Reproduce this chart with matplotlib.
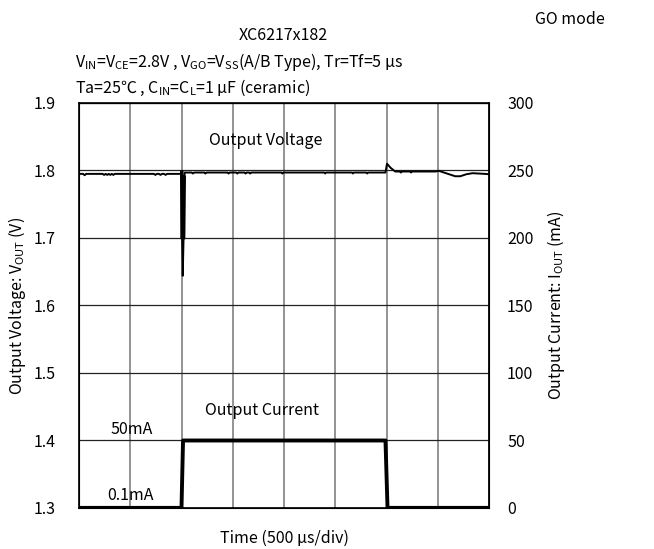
import numpy as np
import matplotlib.pyplot as plt

plt.rcParams['font.family'] = ['Noto Sans CJK JP', 'DejaVu Sans']
plt.rcParams['mathtext.fontset'] = 'custom'
plt.rcParams['mathtext.rm'] = 'Noto Sans CJK JP'
plt.rcParams['mathtext.it'] = 'Noto Sans CJK JP'
FS = 11.5

# time axis in microseconds (500 us/div, 8 divisions)
t_v = [0, 40, 55, 70, 230, 245, 260, 275, 290, 305, 320, 335, 350,
       730, 745, 760, 780, 795, 810, 830, 845, 860, 1000,
       1003, 1006, 1012, 1020, 1026, 1032, 1060, 1100, 1110, 1125, 1225, 1232, 1245,
       1450, 1458, 1470, 1535, 1545, 1555, 1615, 1625, 1635, 1660, 1670, 1680,
       1975, 1983, 1995, 2395, 2402, 2410, 2665, 2672, 2680, 2805, 2812, 2820,
       2990, 3005, 3040, 3085, 3130, 3140, 3150, 3230, 3240, 3250,
       3480, 3510, 3560, 3620, 3670, 3720, 3780, 3840, 3900, 3960, 4000]
v_out = [1.795, 1.795, 1.793, 1.795, 1.795, 1.7935, 1.795, 1.7935, 1.795, 1.7935, 1.795, 1.7935, 1.795,
         1.795, 1.7935, 1.795, 1.795, 1.7935, 1.795, 1.795, 1.7935, 1.795, 1.795,
         1.7975, 1.700, 1.644, 1.700, 1.790, 1.797, 1.797, 1.797, 1.7955, 1.797, 1.797, 1.7955, 1.797,
         1.797, 1.7955, 1.797, 1.797, 1.7955, 1.797, 1.797, 1.7955, 1.797, 1.797, 1.7955, 1.797,
         1.797, 1.7955, 1.797, 1.797, 1.7955, 1.797, 1.797, 1.7955, 1.797, 1.797, 1.7955, 1.797,
         1.797, 1.810, 1.804, 1.7985, 1.7985, 1.797, 1.7985, 1.7985, 1.797, 1.7985,
         1.7985, 1.7995, 1.797, 1.794, 1.7915, 1.7915, 1.7945, 1.796, 1.7955, 1.795, 1.7945]

t_i = [0, 1000, 1015, 2990, 3010, 4000]
i_out = [0.1, 0.1, 50, 50, 0.1, 0.1]

fig = plt.figure(figsize=(6.54, 5.49), dpi=100)
ax = fig.add_axes([79 / 654, 41 / 549, 410 / 654, 405 / 549])
ax2 = ax.twinx()

ax.set_xlim(0, 4000)
ax.set_ylim(1.3, 1.9)
ax2.set_ylim(0, 300)
ax.set_xticks(np.arange(0, 4001, 500))
ax.set_xticklabels([])
ax.set_yticks(np.arange(1.3, 1.91, 0.1))
ax.set_yticklabels([f'{v:.1f}' for v in np.arange(1.3, 1.91, 0.1)])
ax2.set_yticks(np.arange(0, 301, 50))

ax.tick_params(axis='both', length=0, labelsize=FS)
ax.tick_params(axis='y', pad=17)
ax2.tick_params(axis='y', length=0, labelsize=FS, pad=13)

ax.grid(axis='x', color='#808080', lw=1.2)
ax.grid(axis='y', color='#222222', lw=0.9)
ax.set_axisbelow(True)
for sp in ax.spines.values():
    sp.set_linewidth(1.2)

# voltage trace, with the load-step dip drawn heavier near the top
ax.plot(t_v, v_out, color='black', lw=1.4, zorder=3)
ax.plot([1003, 1006, 1020, 1026], [1.7975, 1.700, 1.700, 1.790], color='black', lw=2.6, zorder=3)
ax2.plot(t_i, i_out, color='black', lw=2.8, zorder=3)

ax.set_ylabel('Output Voltage: V$_{\\rm OUT}$ (V)', fontsize=FS, labelpad=4)
ax2.set_ylabel('Output Current: I$_{\\rm OUT}$ (mA)', fontsize=FS, labelpad=8)
ax.set_xlabel('Time (500 μs/div)', fontsize=FS, labelpad=12)

ax.text(1270, 1.845, 'Output Voltage', fontsize=FS, va='center')
ax.text(1225, 1.445, 'Output Current', fontsize=FS, va='center')
ax.text(310, 1.417, '50mA', fontsize=FS, va='center')
ax.text(280, 1.318, '0.1mA', fontsize=FS, va='center')

fig.text(535 / 654, 1 - 20 / 549, 'GO mode', fontsize=FS, va='center')
fig.text(283 / 654, 1 - 36 / 549, 'XC6217x182', fontsize=FS, va='center', ha='center')
fig.text(75 / 654, 1 - 62 / 549,
         'V$_{\\rm IN}$=V$_{\\rm CE}$=2.8V , V$_{\\rm GO}$=V$_{\\rm SS}$(A/B Type), Tr=Tf=5 μs',
         fontsize=FS, va='center')
fig.text(75 / 654, 1 - 88 / 549,
         'Ta=25℃ , C$_{\\rm IN}$=C$_{\\rm L}$=1 μF (ceramic)', fontsize=FS, va='center')

fig.savefig('out.png', dpi=100)
